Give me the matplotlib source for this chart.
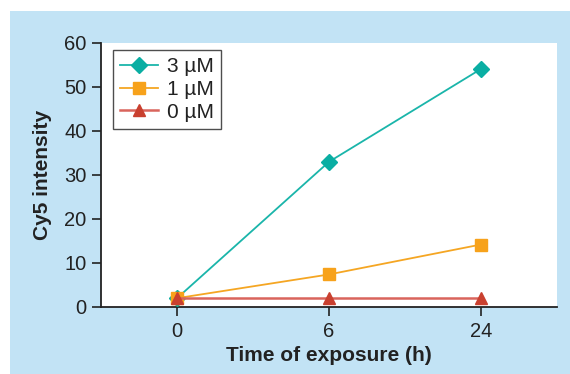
import matplotlib
matplotlib.use("Agg")
import matplotlib.pyplot as plt
from matplotlib.patches import Rectangle

categories = ["0", "6", "24"]
labels = ["3 µM", "1 µM", "0 µM"]
s3 = [2.0, 33.0, 54.1]
s1 = [2.0, 7.4, 14.2]
s0 = [2.0, 2.0, 2.0]
y_ticks = [0, 10, 20, 30, 40, 50, 60]

plt.rcParams['font.family'] = ['Liberation Sans', 'DejaVu Sans']

W, H = 570, 374
fig = plt.figure(figsize=(W / 100, H / 100), dpi=100)
fig.patch.set_facecolor('white')
bg = '#c2e3f5'
fig.patches.append(Rectangle((10 / W, 0), 1 - 10 / W, 1 - 11 / H,
                             transform=fig.transFigure, facecolor=bg,
                             edgecolor='none', zorder=-5))

ax = fig.add_axes([101 / W, 1 - 307 / H, (557 - 101) / W, (307 - 43) / H])
ax.set_zorder(2)
ax.set_facecolor('white')
x = list(range(len(categories)))

ax.plot(x, s3, color='#1ab5aa', lw=1.3, marker='D', ms=8.3, mfc='#0aaea3',
        mec='#0aaea3', label=labels[0], zorder=3)
ax.plot(x, s1, color='#f5a623', lw=1.3, marker='s', ms=8.5, mfc='#f7a21b',
        mec='#f7a21b', label=labels[1], zorder=3)
ax.plot(x, s0, color='#d9645c', lw=1.8, marker='^', ms=9, mfc='#c9402f',
        mec='#c9402f', label=labels[2], zorder=4)

ax.set_xlim(-0.5, 2.5)
ax.set_ylim(0, 60)
ax.set_xticks(x)
ax.set_xticklabels(categories)
ax.set_yticks(y_ticks)
for s in ['top', 'right']:
    ax.spines[s].set_visible(False)
for s in ['left', 'bottom']:
    ax.spines[s].set_color('#222222')
    ax.spines[s].set_linewidth(1.3)
ax.tick_params(axis='both', direction='out', length=6.5, width=1.2,
               colors='#222222', labelsize=14.5, labelcolor='#222222')
ax.tick_params(axis='x', pad=4)
ax.tick_params(axis='y', pad=4)

ax.set_xlabel('Time of exposure (h)', fontsize=15, fontweight='bold',
              color='#222222', labelpad=4)
ax.set_ylabel('Cy5 intensity', fontsize=15, fontweight='bold',
              color='#222222', labelpad=9)

leg = ax.legend(loc='upper left', bbox_to_anchor=(12 / 456, 1 - 7 / 264),
                frameon=True, fancybox=False, edgecolor='#222222',
                fontsize=15, handlelength=1.8, handletextpad=0.45,
                borderpad=0.35, labelspacing=0.18, borderaxespad=0)
leg.get_frame().set_linewidth(1.0)
for t in leg.get_texts():
    t.set_color('#222222')

fig.savefig('out.png', dpi=100, facecolor=fig.get_facecolor())
